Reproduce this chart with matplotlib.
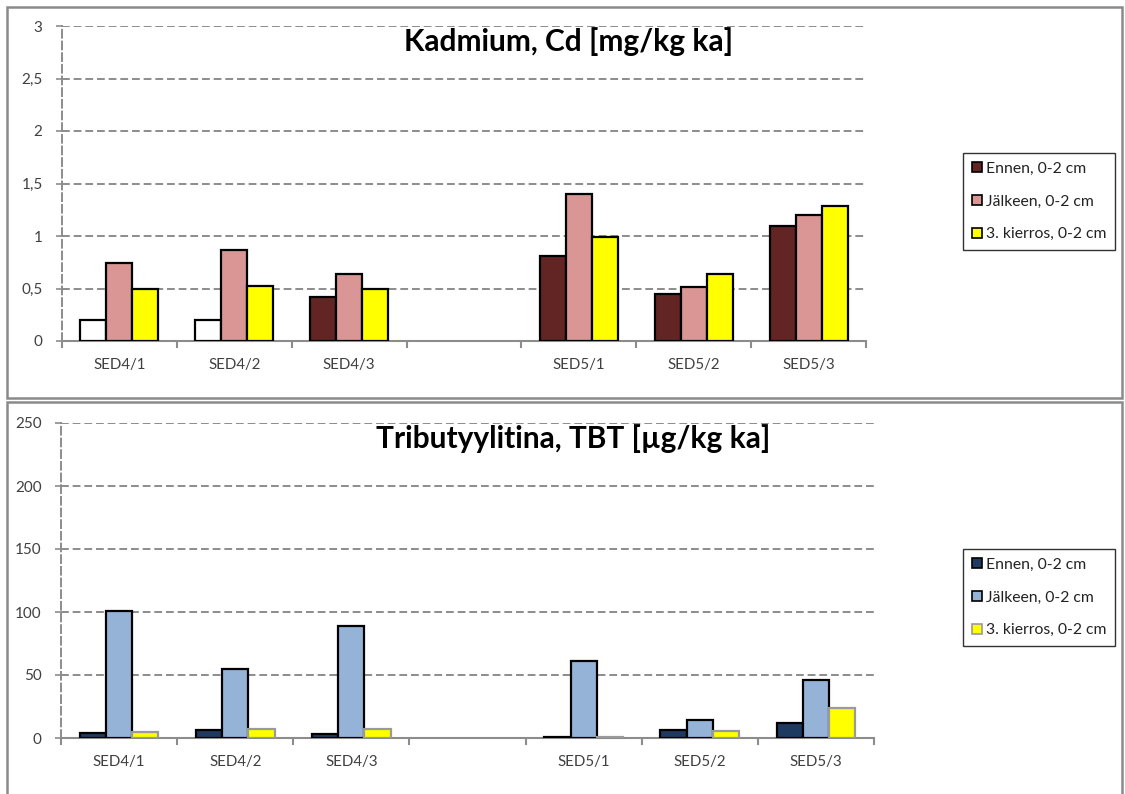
import numpy as np
import matplotlib
matplotlib.use('Agg')
import matplotlib.pyplot as plt
from matplotlib.patches import Rectangle, Patch

plt.rcParams['font.family'] = ['Lato', 'DejaVu Sans']

# data
categories = ['SED4/1', 'SED4/2', 'SED4/3', '', 'SED5/1', 'SED5/2', 'SED5/3']
series = ['Ennen, 0-2 cm', 'Jälkeen, 0-2 cm', '3. kierros, 0-2 cm']

cd_ennen   = [0.2, 0.2, 0.42, np.nan, 0.81, 0.45, 1.10]
cd_jalkeen = [0.74, 0.87, 0.64, np.nan, 1.40, 0.51, 1.20]
cd_kierros = [0.50, 0.52, 0.50, np.nan, 0.99, 0.64, 1.29]
cd_below_limit = [True, True, False, False, False, False, False]  # drawn white

tbt_ennen   = [4, 6, 3, np.nan, 1, 6, 12]
tbt_jalkeen = [101, 55, 89, np.nan, 61, 14.5, 46]
tbt_kierros = [5, 7, 7, np.nan, 1, 5.5, 24]

cd_title = 'Kadmium, Cd [mg/kg ka]'
tbt_title = 'Tributyylitina, TBT [µg/kg ka]'
cd_ticks = [0, 0.5, 1, 1.5, 2, 2.5, 3]
cd_ticklabels = ['0', '0,5', '1', '1,5', '2', '2,5', '3']
tbt_ticks = [0, 50, 100, 150, 200, 250]

cd_colors = ['#632523', '#D99694', '#FFFF00']
tbt_colors = ['#1F3A60', '#95B3D7', '#FFFF00']
tbt_edges = ['black', 'black', '#9A9A9A']

GRID = '#8C8C8C'
TXT = '#404040'

fig = plt.figure(figsize=(11.25, 7.94), dpi=100)

# panel frames (chart area borders)
fig.patches.append(Rectangle((7 / 1125, 1 - 398 / 794), 1115 / 1125, 391 / 794,
                             transform=fig.transFigure, fill=False, ec='#8A8A8A', lw=1.8))
fig.patches.append(Rectangle((7 / 1125, -0.01), 1115 / 1125, 1 - 402 / 794 + 0.01,
                             transform=fig.transFigure, fill=False, ec='#8A8A8A', lw=1.8))

ax1 = fig.add_axes([62 / 1125, 1 - 341 / 794, 804 / 1125, 315 / 794])
ax2 = fig.add_axes([61 / 1125, 1 - 738 / 794, 813 / 1125, 315 / 794])


def draw(ax, vals, colors, edges, ticks, ticklabels, title, ymax, white_mask=None):
    x = np.arange(len(categories))
    w = 0.226
    for i, (v, c, e) in enumerate(zip(vals, colors, edges)):
        fc = c
        if white_mask is not None and i == 0:
            fc = ['white' if m else c for m in white_mask]
        ax.bar(x + (i - 1) * w, v, width=w, color=fc, edgecolor=e, linewidth=1.6,
               label=series[i], zorder=3)
    ax.set_xlim(-0.5, len(categories) - 0.5)
    ax.set_ylim(0, ymax)
    ax.set_yticks(ticks)
    ax.set_yticklabels(ticklabels)
    ax.set_xticks(np.arange(len(categories) + 1) - 0.5)
    ax.set_xticklabels([])
    ax.set_xticks(x, minor=True)
    ax.set_xticklabels(categories, minor=True)
    ax.tick_params(axis='x', which='major', length=5, color=GRID, width=1.5, direction='out')
    ax.tick_params(axis='x', which='minor', length=0, pad=12, labelsize=10.8, labelcolor=TXT)
    ax.tick_params(axis='y', length=4, color=GRID, width=1.2, pad=10, labelsize=11,
                   labelcolor=TXT)
    ax.grid(axis='y', color=GRID, linestyle=(0, (4, 2)), linewidth=1.4, zorder=0)
    for s in ['top', 'right']:
        ax.spines[s].set_visible(False)
    ax.spines['bottom'].set_color(GRID)
    ax.spines['bottom'].set_linewidth(1.5)
    ax.spines['left'].set_color(GRID)
    ax.spines['left'].set_linestyle((0, (4, 2)))
    ax.spines['left'].set_linewidth(1.4)
    ax.text(0.63, 0.95, title, transform=ax.transAxes, ha='center', va='center',
            fontsize=21.5, fontweight='bold', color='black')


draw(ax1, [cd_ennen, cd_jalkeen, cd_kierros], cd_colors, ['black'] * 3,
     cd_ticks, cd_ticklabels, cd_title, 3, white_mask=cd_below_limit)
draw(ax2, [tbt_ennen, tbt_jalkeen, tbt_kierros], tbt_colors, tbt_edges,
     tbt_ticks, [str(t) for t in tbt_ticks], tbt_title, 250)

for ax, colors, edges, top in [(ax1, cd_colors, ['black'] * 3, 153),
                               (ax2, tbt_colors, tbt_edges, 549)]:
    handles = [Patch(facecolor=c, edgecolor='black' if e == 'black' else e, linewidth=1.2)
               for c, e in zip(colors, edges)]
    fig.legend(handles, series, loc='upper left',
               bbox_to_anchor=(963 / 1125, 1 - top / 794),
               frameon=True, fancybox=False, edgecolor='black', fontsize=11.3,
               handlelength=0.65, handleheight=0.65, handletextpad=0.25,
               labelspacing=1.2, borderpad=0.55, borderaxespad=0,
               labelcolor='#222222')

fig.savefig('out.png', dpi=100)
